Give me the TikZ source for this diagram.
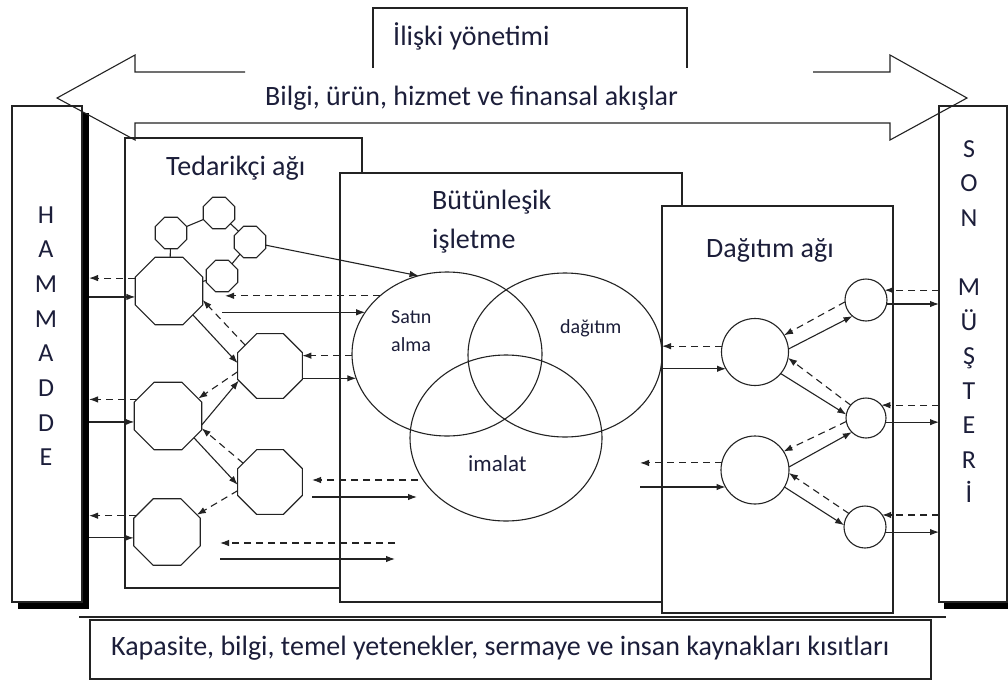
\documentclass[tikz,border=0pt]{standalone}
\usepackage{fontspec}
\setmainfont{Carlito}
\usetikzlibrary{shapes.geometric,arrows.meta,calc}
\definecolor{ink}{RGB}{28,30,58}
\definecolor{edge}{RGB}{35,35,35}
\begin{document}
\begin{tikzpicture}[x=1pt,y=-1pt,
  line/.style={draw=edge,line width=1.1pt},
  flow/.style={line,-{Latex[length=9pt,width=6.5pt]}},
  back/.style={flow,dash pattern=on 7pt off 5pt},
  frame/.style={line,fill=white,rectangle,inner sep=0pt,outer sep=0pt,anchor=north west},
  shade/.style={fill=black,rectangle,inner sep=0pt,outer sep=0pt,anchor=north west},
  oct/.style={line,regular polygon,regular polygon sides=8,inner sep=0pt,outer sep=0pt},
  disc/.style={line,circle,inner sep=0pt,outer sep=0pt},
  venn/.style={line,ellipse,inner sep=0pt,outer sep=0pt},
  big/.style={font=\fontsize{28}{32}\selectfont,text=ink,inner sep=0pt,anchor=base west},
  small/.style={font=\fontsize{20}{24}\selectfont,text=ink,inner sep=0pt,anchor=base west},
  letter/.style={font=\fontsize{26}{30}\selectfont,text=ink,inner sep=0pt,anchor=base},
  line join=miter]
\useasboundingbox (0,0) rectangle (1008,680);

% side columns with heavy shadow
\node[shade,minimum width=71,minimum height=496] (hamsh) at (18,113) {};
\node[frame,minimum width=70,minimum height=496] (ham) at (12,106) {};
\node[shade,minimum width=80,minimum height=496] (sonsh) at (944,113) {};
\node[frame,minimum width=68,minimum height=496] (son) at (939,106) {};
\foreach \ch [count=\i] in {H,A,M,M,A,D,D,E}
  \node[letter] (hamch\i) at (46,{223+34.7*(\i-1)}) {\ch};
\foreach \ch/\yy [count=\i] in {S/157,O/191,N/226,M/295,Ü/330,Ş/364,T/399,E/433,R/468,İ/502}
  \node[letter] (sonch\i) at (969,\yy) {\ch};

% overlapping network panels
\node[frame,minimum width=237,minimum height=450] (ted) at (125,138) {};
\node[frame,minimum width=342,minimum height=429] (firm) at (340,173) {};
\node[frame,minimum width=231,minimum height=407] (dbox) at (662,206) {};

% relationship management frame (open at the bottom)
\draw[line] (373,68) -- (373,8) -- (687,8) -- (687,68);
\node[big] (rel) at (393,45) {İlişki yönetimi};

% double-headed flow arrow
\draw[line] (245,72) -- (135,72) -- (135,55) -- (57,98) -- (135,140) -- (135,123)
  -- (890,123) -- (890,140) -- (967,98) -- (890,55) -- (890,72) -- (813,72);
\node[big] (flows) at (265,105) {Bilgi, ürün, hizmet ve finansal akışlar};

% constraints bar
\draw[line] (79,617) -- (946,617);
\node[frame,minimum width=841,minimum height=59] (kap) at (90,620) {};
\node[big] (kapl) at (111,655) {Kapasite, bilgi, temel yetenekler, sermaye ve insan kaynakları kısıtları};

% panel titles
\node[big] (tedl) at (166,175) {Tedarikçi ağı};
\node[big] (firml1) at (432,209) {Bütünleşik};
\node[big] (firml2) at (432,248) {işletme};
\node[big] (dboxl) at (706,257) {Dağıtım ağı};

% functional areas of the firm
\node[venn,minimum width=190,minimum height=164] (sat) at (447,354) {};
\node[venn,minimum width=194,minimum height=164] (dag) at (565,355) {};
\node[venn,minimum width=192,minimum height=166] (ima) at (506,438) {};
\node[small] (satl1) at (391,323) {Satın};
\node[small] (satl2) at (391,351) {alma};
\node[small] (dagl) at (560,333) {dağıtım};
\node[font=\fontsize{23}{27}\selectfont,text=ink,inner sep=0pt,anchor=base west] (imal) at (468,471) {imalat};

% supplier network
\node[oct,minimum size=34] (A) at (171,233) {};
\node[oct,minimum size=34] (B) at (219,213) {};
\node[oct,minimum size=34] (C) at (250,242) {};
\node[oct,minimum size=34] (D) at (222,276) {};
\node[oct,minimum size=73] (E) at (169,291) {};
\node[oct,minimum size=70] (F) at (270,366) {};
\node[oct,minimum size=73] (G) at (168,416) {};
\node[oct,minimum size=70] (H) at (270,482) {};
\node[oct,minimum size=72] (I) at (167,532) {};
\draw[line] (A) -- (B);
\draw[line] (B) -- (C);
\draw[line] (C) -- (D);
\draw[line] (D) -- (E);
\draw[line] (A) -- (E);
\draw[flow] (C) -- (sat.110);

\draw[flow] (E.-45) -- (F.175);
\draw[back] (F.140) -- (E.-15);
\draw[back] (F.190) -- (G.30);
\draw[flow] (G.-15) -- (F.205);
\draw[flow] (G.-40) -- (H.185);
\draw[back] (H.145) -- (G.-20);
\draw[back] (H.195) -- (I.30);

% raw material links
\draw[back] (E.159) -- (E.159 -| hamsh.east);
\draw[flow] (hamsh.east |- E.190) -- (E.190);
\draw[back] (G.152) -- (G.152 -| hamsh.east);
\draw[flow] (hamsh.east |- G.190) -- (G.190);
\draw[back] (I.152) -- (I.152 -| hamsh.east);
\draw[flow] (hamsh.east |- I.190) -- (I.190);

% supplier <-> purchasing links
\coordinate (e1) at (225,296);
\coordinate (e2) at (222,313);
\draw[back] (sat.139) -- (sat.139 -| e1);
\draw[flow] (e2 |- sat.153) -- (sat.153);
\draw[back] (sat.181) -- (sat.181 -| F.east);
\draw[flow] (F.east |- sat.195) -- (sat.195);
\coordinate (hr1) at (418,480);
\coordinate (hl1) at (312,480);
\coordinate (hl2) at (312,497);
\coordinate (hr2) at (417,497);
\draw[back] (hr1) -- (hl1);
\draw[flow] (hl2) -- (hr2);
\coordinate (br1) at (395,543);
\coordinate (bl1) at (220,543);
\coordinate (bl2) at (220,559);
\coordinate (br2) at (395,559);
\draw[back] (br1) -- (bl1);
\draw[flow] (bl2) -- (br2);

% distribution network
\node[disc,minimum size=67] (J) at (755,352) {};
\node[disc,minimum size=68] (K) at (755,470) {};
\node[disc,minimum size=42] (L) at (866,300) {};
\node[disc,minimum size=40] (M) at (866,418) {};
\node[disc,minimum size=42] (N) at (865,527) {};

\draw[flow] (J.5) -- (L.230);
\draw[back] (L.185) -- (J.30);
\draw[back] (M.140) -- (J.-10);
\draw[flow] (J.-40) -- (M.170);
\draw[back] (M.190) -- (K.33);
\draw[flow] (K.5) -- (M.225);
\draw[flow] (K.-30) -- (N.175);
\draw[back] (N.140) -- (K.-5);

\draw[back] (J.170) -- (J.170 -| dbox.west);
\draw[flow] (dbox.west |- J.210) -- (J.210);
\coordinate (kl1) at (640,463);
\coordinate (kl2) at (640,487);
\draw[back] (K.168) -- (K.168 -| kl1);
\draw[flow] (kl2 |- K.210) -- (K.210);

% customer links
\draw[back] (L.28 -| son.west) -- (L.28);
\draw[flow] (L.-11) -- (L.-11 -| son.west);
\draw[back] (M.40 -| son.west) -- (M.40);
\draw[flow] (M.-12) -- (M.-12 -| son.west);
\draw[back] (N.35 -| son.west) -- (N.35);
\draw[flow] (N.-14) -- (N.-14 -| son.west);
\end{tikzpicture}
\end{document}
